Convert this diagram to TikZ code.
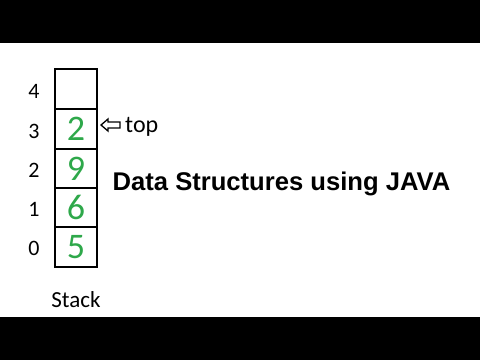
\documentclass[tikz,border=0pt]{standalone}
\usepackage{fontspec}
\setmainfont{Carlito}
\newfontfamily\titlefont{Liberation Sans}
\definecolor{digitgreen}{HTML}{2EA84A}
\begin{document}
\begin{tikzpicture}[x=1pt,y=-1pt,
  cell/.style={draw=black,line width=2pt,minimum width=42pt,minimum height=39.6pt,inner sep=0pt,anchor=center},
  val/.style={text=digitgreen,font=\fontsize{36}{40}\selectfont},
  idx/.style={font=\fontsize{22}{24}\selectfont,inner sep=0pt}]
\useasboundingbox (0,0) rectangle (480,360);
\fill[black] (0,0) rectangle (480,43);
\fill[black] (0,317) rectangle (480,360);
\node[cell] (c4) at (76,89) {};
\node[cell,val] (c3) at (76,129) {2};
\node[cell,val] (c2) at (76,168.5) {9};
\node[cell,val] (c1) at (76,207.5) {6};
\node[cell,val] (c0) at (76,247) {5};
\node[idx] (i4) at (34,91) {4};
\node[idx] (i3) at (34,131) {3};
\node[idx] (i2) at (34,170) {2};
\node[idx] (i1) at (34,209) {1};
\node[idx] (i0) at (34,248) {0};
\node[font=\fontsize{23}{26}\selectfont,inner sep=0pt] (stack) at (76,300) {Stack};
\draw[line width=1.3pt,line join=miter] (101,125) -- (108,119) -- (108,122) -- (120,122) -- (120,128) -- (108,128) -- (108,131) -- cycle;
\node[font=\fontsize{24}{28}\selectfont,inner sep=0pt,anchor=base west] (top) at (125,132) {top};
\node[font=\titlefont\bfseries\fontsize{25.6}{28}\selectfont,inner sep=0pt] (title) at (281.5,184) {Data Structures using JAVA};
\end{tikzpicture}
\end{document}
